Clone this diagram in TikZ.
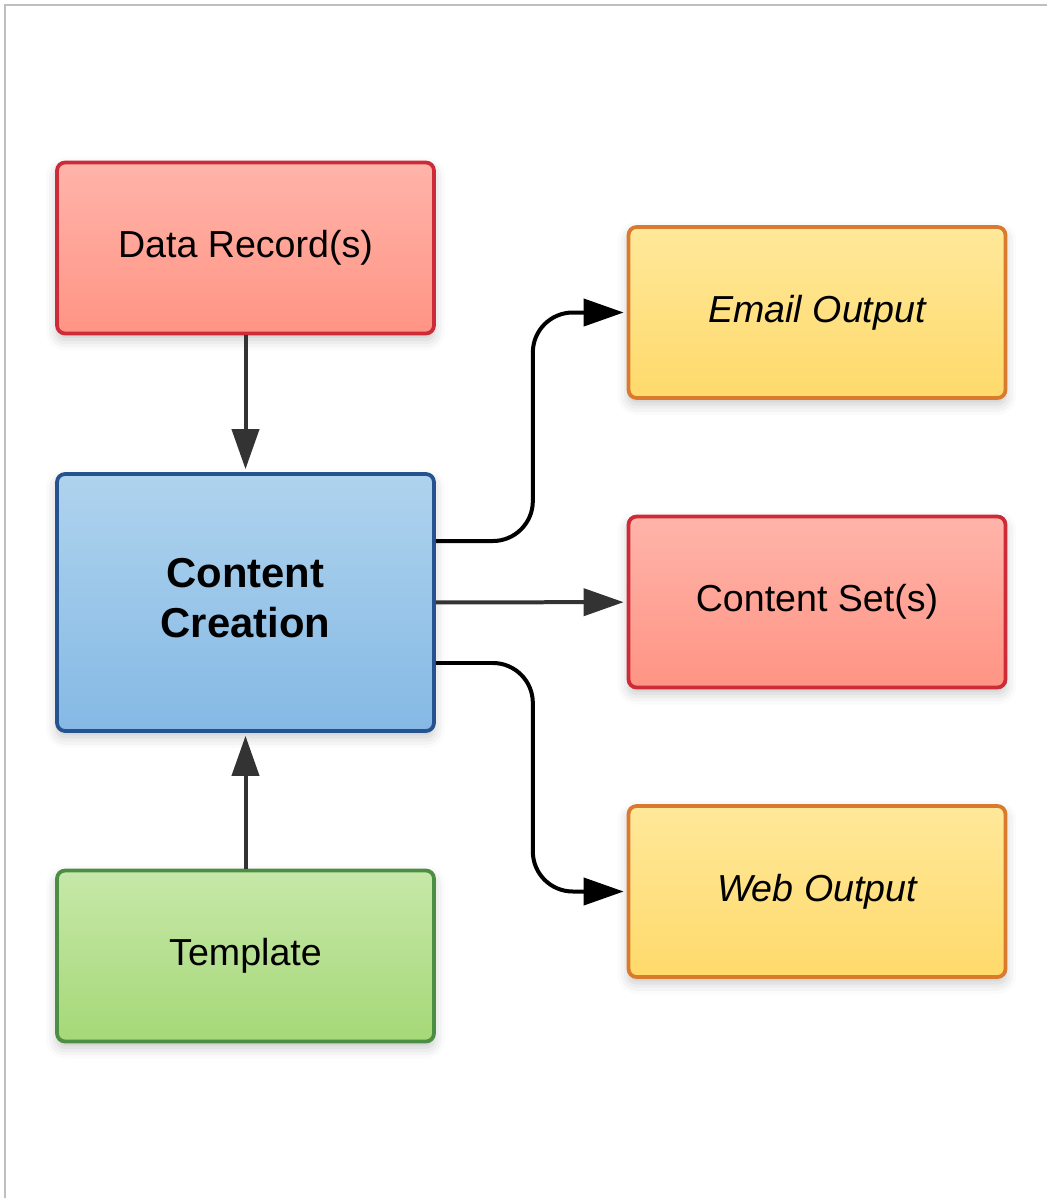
\documentclass[tikz,border=0pt]{standalone}
\usepackage{fontspec}
\setmainfont{Liberation Sans}
\usepackage{tikz}
\usetikzlibrary{positioning,calc,arrows.meta,shadows.blur}
\tikzset{>={Triangle[length=0.8cm,width=0.54cm]}}
\tikzset{
  box/.style={draw,line width=0.075cm,rounded corners=0.16cm,minimum width=7.54cm,minimum height=3.42cm,
    align=center,font=\fontsize{21.4}{26}\selectfont,
    blur shadow={shadow xshift=0cm,shadow yshift=-0.12cm,shadow blur radius=0.22cm,shadow opacity=22}},
  redbox/.style={box,draw=rededge,top color=salmontop,bottom color=salmonbot},
  bluebox/.style={box,draw=bluedge,top color=bluetop,bottom color=bluebot,minimum height=5.14cm},
  greenbox/.style={box,draw=greenedge,top color=greentop,bottom color=greenbot},
  yellowbox/.style={box,draw=orangeedge,top color=yellowtop,bottom color=yellowbot},
  flow/.style={->,line width=0.08cm,shorten >=0.06cm},
}
\definecolor{salmontop}{HTML}{FFB4AA}
\definecolor{salmonbot}{HTML}{FF9484}
\definecolor{rededge}{HTML}{CC2B37}
\definecolor{bluetop}{HTML}{AFD3EE}
\definecolor{bluebot}{HTML}{85B9E4}
\definecolor{bluedge}{HTML}{24538F}
\definecolor{greentop}{HTML}{C7E8A9}
\definecolor{greenbot}{HTML}{A5D877}
\definecolor{greenedge}{HTML}{4D8E45}
\definecolor{yellowtop}{HTML}{FFE89A}
\definecolor{yellowbot}{HTML}{FFDA6B}
\definecolor{orangeedge}{HTML}{DA7A2D}
\begin{document}
\begin{tikzpicture}[x=0.02cm,y=-0.02cm]
\useasboundingbox (0,0) rectangle (1047,1198);
\draw[black!25,line width=0.04cm] (5,1198) -- (5,5) -- (1047,5);
\node[redbox] (data) at (245.5,248) {Data Record(s)};
\node[bluebox,font=\fontsize{23.8}{28.5}\selectfont\bfseries] (creation) at (245.5,602.5) {Content\\Creation\rule[-0.2cm]{0pt}{0.2cm}};
\node[greenbox] (tmpl) at (245.5,956) {Template};
\node[yellowbox,font=\fontsize{21.4}{26}\selectfont\itshape] (email) at (817,312.5) {Email Output};
\node[redbox] (sets) at (817,602) {Content Set(s)};
\node[yellowbox,font=\fontsize{21.4}{26}\selectfont\itshape] (web) at (817,891.5) {Web Output};
\draw[flow,black!80] (data) -- (creation);
\draw[flow,black!80] (tmpl) -- (creation);
\draw[flow,black!80] (creation) -- (sets);
\draw[flow,rounded corners=0.8cm] ([yshift=1.23cm]creation.east) -- ++(97,0) |- (email.west);
\draw[flow,rounded corners=0.8cm] ([yshift=-1.21cm]creation.east) -- ++(97,0) |- (web.west);
\end{tikzpicture}
\end{document}
